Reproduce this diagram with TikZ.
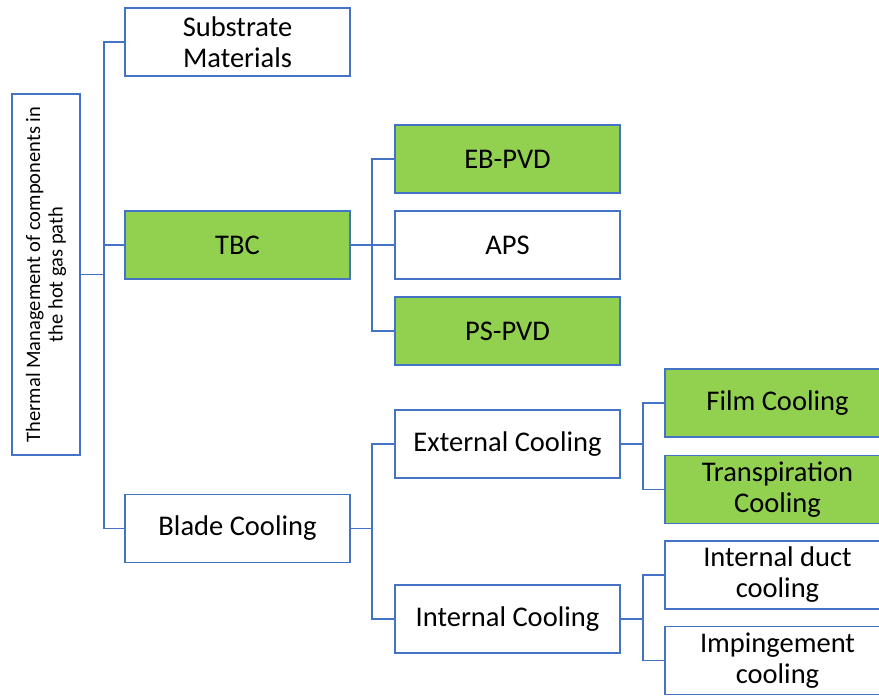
\documentclass[tikz,border=0pt]{standalone}
\usepackage{fontspec}
\setmainfont{Carlito}
\definecolor{lineblue}{HTML}{4472C4}
\definecolor{boxgreen}{HTML}{92D050}
\tikzset{
  box/.style={draw=lineblue, line width=1.3pt, fill=white, minimum width=225pt, minimum height=68pt,
    inner sep=0pt, align=center, font=\fontsize{28.5}{31}\selectfont},
  gbox/.style={box, fill=boxgreen},
  conn/.style={draw=lineblue, line width=1.3pt}
}
\begin{document}
\begin{tikzpicture}[x=1pt,y=-1pt]
\useasboundingbox (0,0) rectangle (879,696);
% root
\node[draw=lineblue, line width=1.3pt, minimum width=68pt, minimum height=361pt, inner sep=0pt] (root) at (46,274.5) {};
\node[rotate=90, align=center, font=\fontsize{20.5}{22.5}\selectfont, inner sep=0pt] (roottext) at (root.center) {Thermal Management of components in\\the hot gas path};
% level 1
\node[box] (sub) at (237.5,42) {Substrate\\Materials};
\node[gbox] (tbc) at (237.5,245) {TBC};
\node[box] (blade) at (237.5,528.5) {Blade Cooling};
% TBC children
\node[gbox] (eb) at (507.5,159) {EB-PVD};
\node[box] (aps) at (507.5,245) {APS};
\node[gbox] (ps) at (507.5,331) {PS-PVD};
% Blade children
\node[box] (ext) at (507.5,444) {External Cooling};
\node[box] (int) at (507.5,619) {Internal Cooling};
% ext children
\node[gbox] (film) at (777.5,403) {Film Cooling};
\node[gbox] (trans) at (777.5,489.5) {Transpiration\\Cooling};
% int children
\node[box] (duct) at (777.5,575) {Internal duct\\cooling};
\node[box] (imp) at (777.5,660.5) {Impingement\\cooling};
% trunks
\coordinate (t1) at (104,0);
\coordinate (t2) at (372,0);
\coordinate (t3) at (643,0);
\draw[conn] (root.east) -- (root.east -| t1);
\draw[conn] (sub.west) -- (sub.west -| t1) -- (blade.west -| t1) -- (blade.west);
\draw[conn] (tbc.west) -- (tbc.west -| t1);
\draw[conn] (tbc.east) -- (aps.west);
\draw[conn] (eb.west) -- (eb.west -| t2) -- (ps.west -| t2) -- (ps.west);
\draw[conn] (blade.east) -- (blade.east -| t2);
\draw[conn] (ext.west) -- (ext.west -| t2) -- (int.west -| t2) -- (int.west);
\draw[conn] (ext.east) -- (ext.east -| t3);
\draw[conn] (film.west) -- (film.west -| t3) -- (trans.west -| t3) -- (trans.west);
\draw[conn] (int.east) -- (int.east -| t3);
\draw[conn] (duct.west) -- (duct.west -| t3) -- (imp.west -| t3) -- (imp.west);
\end{tikzpicture}
\end{document}
